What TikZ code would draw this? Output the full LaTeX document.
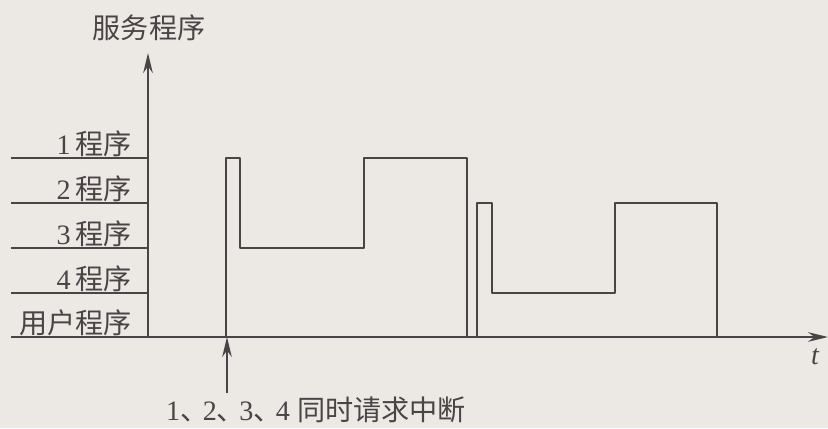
\documentclass[tikz,border=0pt]{standalone}
\usepackage{fontspec}
\setmainfont{Liberation Serif}
\newfontfamily\cjk{Noto Sans CJK SC}
\usetikzlibrary{arrows.meta}
\definecolor{ink}{HTML}{4A4446}
\definecolor{paper}{HTML}{ECE8E4}
\newcommand\dunhao{{\cjk 、}\kern-0.2em}

\begin{document}
\begin{tikzpicture}[
  x=0.025cm, y=0.025cm,
  >={Stealth[length=5mm, width=2.4mm]},
  every node/.style={font=\fontsize{20}{24}\selectfont, text=ink, inner sep=0pt},
  axis/.style={->, line width=1.4pt, draw=ink},
  level/.style={line width=1.4pt, draw=ink},
  wave/.style={line width=1.7pt, draw=ink, line join=round},
]
\fill[paper] (0,0) rectangle (828,428);
\useasboundingbox (0,0) rectangle (828,428);

% axes
\coordinate (O) at (148,91);
\coordinate (xl) at (11,91);
\coordinate (xr) at (828,91);
\coordinate (yt) at (148,375);
\draw[axis] (xl) -- (xr);
\draw[axis] (O) -- (yt);
\node (ylab) at (149,400) {\cjk 服务程序};
\node[font=\fontsize{20}{24}\selectfont\itshape] (tlab) at (815,71) {t};

% priority levels
\foreach \y/\txt [count=\i] in {270/1\,{\cjk 程序}, 225/2\,{\cjk 程序},
    180/3\,{\cjk 程序}, 135/4\,{\cjk 程序}, 91/{\cjk 用户程序}} {
  \coordinate (lv\i) at (11,\y);
  \coordinate (ax\i) at (148,\y);
  \draw[level] (lv\i) -- (ax\i);
  \node[anchor=east] (lab\i) at (132,\y+14) {\txt};
}

% service sequence
\draw[wave] (226,91) -- (226,270) -- (240,270) -- (240,180) -- (364,180)
  -- (364,270) -- (467,270) -- (467,91);
\draw[wave] (477,91) -- (477,225) -- (492,225) -- (492,135) -- (615,135)
  -- (615,225) -- (717,225) -- (717,91);

% request
\node[anchor=base] (req) at (316,8) {1\dunhao 2\dunhao 3\dunhao 4 {\cjk 同时请求中断}};
\coordinate (rq) at (227,91);
\coordinate (rb) at (227,35);
\draw[axis] (rb) -- (rq);
\end{tikzpicture}
\end{document}
